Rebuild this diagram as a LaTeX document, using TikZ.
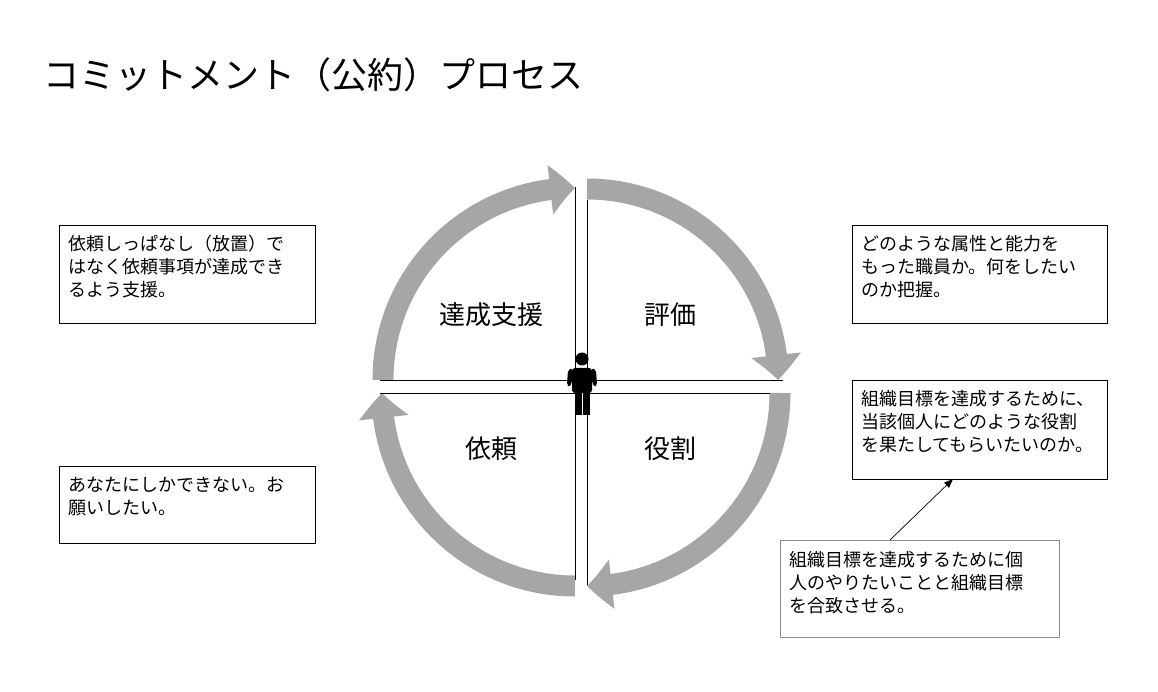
\documentclass[tikz,border=0pt]{standalone}
\usepackage{fontspec}
\setmainfont{Noto Sans CJK JP}
\usetikzlibrary{arrows.meta,bending}
\begin{document}
\begin{tikzpicture}[x=1pt,y=1pt,
  band/.style={line width=21pt,draw=black!35,-{Triangle[width=48pt 0 0,length=25pt 0 0,bend]}},
  qline/.style={draw=black,line width=0.9pt},
  tbox/.style={draw=black,line width=0.8pt,anchor=north west,align=left,inner sep=0pt,font=\fontsize{18}{23}\selectfont},
  lab/.style={font=\fontsize{26}{30}\selectfont}]
\useasboundingbox[fill=white] (0,0) rectangle (1158,691);
\node[anchor=west,font=\fontsize{36}{40}\selectfont] (title) at (40,616) {コミットメント（公約）プロセス};
% arcs
\draw[band] (575-192,311) arc[start angle=180,end angle=90,radius=192];
\draw[band] (587,311+191) arc[start angle=90,end angle=0,radius=191];
\draw[band] (587+193,298) arc[start angle=0,end angle=-90,radius=193];
\draw[band] (575,298-193) arc[start angle=-90,end angle=-180,radius=193];
% quadrant lines
\coordinate (tl1) at (575,504); \coordinate (tlc) at (575,311); \coordinate (tl2) at (380,311);
\coordinate (tr1) at (587,491); \coordinate (trc) at (587,311); \coordinate (tr2) at (783,311);
\coordinate (br1) at (770,298); \coordinate (brc) at (587,298); \coordinate (br2) at (587,106);
\coordinate (bl1) at (380,298); \coordinate (blc) at (575,298); \coordinate (bl2) at (575,111);
\draw[qline] (tl1) -- (tlc) -- (tl2);
\draw[qline] (tr1) -- (trc) -- (tr2);
\draw[qline] (br1) -- (brc) -- (br2);
\draw[qline] (bl1) -- (blc) -- (bl2);
% person
\fill[black] (582,332) circle (6.5);
\fill[black,rounded corners=3pt] (572,323) rectangle (592,298);
\fill[black] (575,300) rectangle (590,276);
\fill[white] (581.7,298) rectangle (583.3,276);
\fill[black,rounded corners=2pt] (568,321) -- (572,323) -- (572,308) -- (569,304) -- (567,306) -- cycle;
\fill[black,rounded corners=2pt] (596,321) -- (592,323) -- (592,308) -- (595,304) -- (597,306) -- cycle;
% labels
\node[lab] (q1) at (491,376) {達成支援};
\node[lab] (q2) at (670,376) {評価};
\node[lab] (q3) at (491,242) {依頼};
\node[lab] (q4) at (670,242) {役割};
% boxes
\node[tbox,minimum width=256pt,minimum height=98pt,text depth=0pt] (b1) at (59,466) {};
\node[anchor=north west,align=left,font=\fontsize{18}{23}\selectfont,inner sep=0pt] at (68,456) {依頼しっぱなし（放置）で\\はなく依頼事項が達成でき\\るよう支援。};
\node[tbox,minimum width=255pt,minimum height=98pt] (b2) at (852,466) {};
\node[anchor=north west,align=left,font=\fontsize{18}{23}\selectfont,inner sep=0pt] at (861,456) {どのような属性と能力を\\もった職員か。何をしたい\\のか把握。};
\node[tbox,minimum width=255pt,minimum height=99pt] (b3) at (852,311) {};
\node[anchor=north west,align=left,font=\fontsize{18}{23}\selectfont,inner sep=0pt] at (861,301) {組織目標を達成するために、\\当該個人にどのような役割\\を果たしてもらいたいのか。};
\node[tbox,minimum width=256pt,minimum height=77pt] (b4) at (59,225) {};
\node[anchor=north west,align=left,font=\fontsize{18}{23}\selectfont,inner sep=0pt] at (68,214) {あなたにしかできない。お\\願いしたい。};
\node[tbox,draw=black!45,minimum width=279pt,minimum height=97pt] (b5) at (780,151) {};
\node[anchor=north west,align=left,font=\fontsize{18}{23}\selectfont,inner sep=0pt] at (789,140) {組織目標を達成するために個\\人のやりたいことと組織目標\\を合致させる。};
\coordinate (a5) at (890,151);
\coordinate (a3) at (953,212);
\draw[-{Triangle[width=7pt,length=9pt]},line width=0.7pt] (a5) -- (a3);
\end{tikzpicture}
\end{document}
